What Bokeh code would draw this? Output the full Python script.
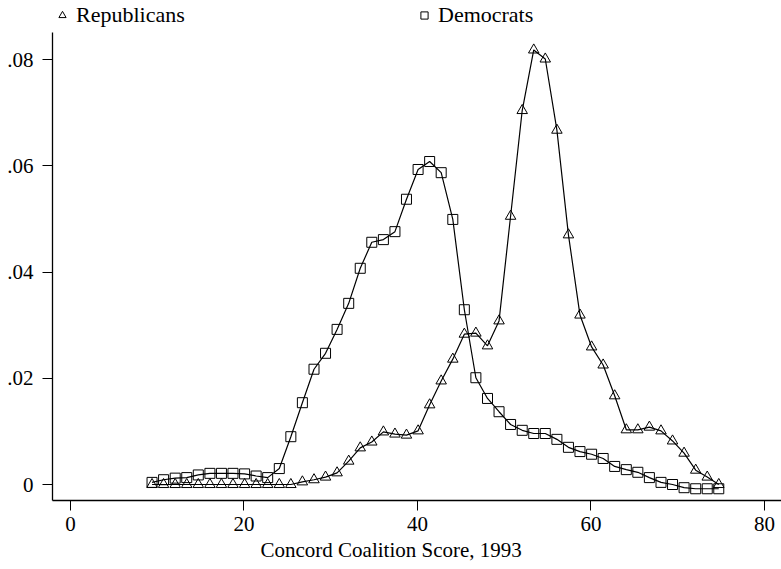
from bokeh.plotting import figure
from bokeh.models import (Range1d, FixedTicker, Legend, LegendItem, ColumnDataSource,
                          CustomJSTickFormatter, Title)
from bokeh.embed import file_html
from bokeh.resources import INLINE

# Evaluation grid (Concord Coalition score)
score = [9.4, 10.73, 12.07, 13.4, 14.73, 16.07, 17.4, 18.73, 20.07, 21.4,
         22.73, 24.07, 25.4, 26.73, 28.07, 29.4, 30.73, 32.07, 33.4, 34.73,
         36.07, 37.4, 38.73, 40.07, 41.4, 42.73, 44.07, 45.4, 46.73, 48.07,
         49.4, 50.73, 52.07, 53.4, 54.73, 56.07, 57.4, 58.73, 60.07, 61.4,
         62.73, 64.07, 65.4, 66.73, 68.07, 69.4, 70.73, 72.07, 73.4, 74.73]

republicans = [0.0, 0.0, 0.0, 0.0, 0.0, 0.0, 0.0, 0.0, 0.0, 0.0,
               0.0, 0.0, 0.0, 0.0005, 0.0009, 0.0014, 0.0022, 0.0044, 0.0069, 0.0080,
               0.0099, 0.0095, 0.0093, 0.0101, 0.0150, 0.0195, 0.0236, 0.0283, 0.0285, 0.0261,
               0.0308, 0.0505, 0.0704, 0.0818, 0.0801, 0.0667, 0.0470, 0.0319, 0.0259, 0.0225,
               0.0167, 0.0103, 0.0103, 0.0108, 0.0101, 0.0082, 0.0059, 0.0027, 0.0014, 0.0]

democrats = [0.0004, 0.0009, 0.0012, 0.0013, 0.0018, 0.0021, 0.0021, 0.0021, 0.0020, 0.0016,
             0.0013, 0.0030, 0.0090, 0.0154, 0.0217, 0.0247, 0.0292, 0.0341, 0.0407, 0.0456,
             0.0461, 0.0476, 0.0537, 0.0593, 0.0608, 0.0587, 0.0499, 0.0329, 0.0201, 0.0162,
             0.0137, 0.0113, 0.0102, 0.0096, 0.0096, 0.0085, 0.0070, 0.0062, 0.0057, 0.0049,
             0.0034, 0.0028, 0.0023, 0.0013, 0.0004, 0.0, -0.0006, -0.0008, -0.0008, -0.0008]

x_ticks = [0, 20, 40, 60, 80]
y_ticks = [0, 0.02, 0.04, 0.06, 0.08]
x_title = "Concord Coalition Score, 1993"
rep_label = "Republicans"
dem_label = "Democrats"

FONT = "Liberation Serif"

# y axis drawn only over this span; the frame extends above it to hold the key
Y_AXIS_SPAN = (-0.00301, 0.08508)

src = ColumnDataSource(dict(x=score, rep=republicans, dem=democrats))

p = figure(width=781, height=569, output_backend="svg", toolbar_location=None,
           x_range=Range1d(-2.075, 81.96), y_range=Range1d(-0.00301, 0.09111),
           min_border_left=52, min_border_right=0, min_border_top=0, min_border_bottom=69)
p.outline_line_color = None
p.grid.visible = False
p.background_fill_color = "white"
p.border_fill_color = "white"

p.line("x", "dem", source=src, line_color="black", line_width=1.2)
p.line("x", "rep", source=src, line_color="black", line_width=1.2)
r_dem = p.scatter("x", "dem", source=src, marker="square", size=10,
                  fill_color=None, line_color="black", line_width=1)
r_rep = p.scatter("x", "rep", source=src, marker="triangle", size=10.5,
                  fill_color=None, line_color="black", line_width=1)

for ax in (p.xaxis[0], p.yaxis[0]):
    ax.axis_line_color = "black"
    ax.axis_line_width = 1.3
    ax.major_tick_line_color = "black"
    ax.major_tick_line_width = 1
    ax.major_tick_in = 0
    ax.major_tick_out = 10
    ax.minor_tick_line_color = None
    ax.major_label_text_font = FONT
    ax.major_label_text_font_size = "21px"
    ax.major_label_text_color = "black"

p.xaxis.ticker = FixedTicker(ticks=x_ticks)
p.xaxis.major_label_standoff = 6

p.yaxis.ticker = FixedTicker(ticks=y_ticks)
p.yaxis.bounds = Y_AXIS_SPAN
p.yaxis.major_label_standoff = 9
p.yaxis.formatter = CustomJSTickFormatter(
    code="return tick == 0 ? '0' : tick.toFixed(2).replace(/^0/, '');")

# x-axis title, offset to the left as in the original
p.add_layout(Title(text=x_title, align="left", offset=208, standoff=4,
                   text_font=FONT, text_font_size="21px", text_font_style="normal",
                   text_color="black"), "below")

legend = Legend(items=[LegendItem(label=rep_label, renderers=[r_rep]),
                       LegendItem(label=dem_label, renderers=[r_dem])],
                location=(1, 472), orientation="horizontal", padding=0, margin=0,
                spacing=0, glyph_width=18, glyph_height=20, label_height=20,
                label_width=339, label_standoff=5, label_text_font=FONT,
                label_text_font_size="22px", label_text_color="black",
                background_fill_alpha=0, border_line_alpha=0)
p.add_layout(legend)

open("out.html", "w").write(file_html(p, INLINE))
